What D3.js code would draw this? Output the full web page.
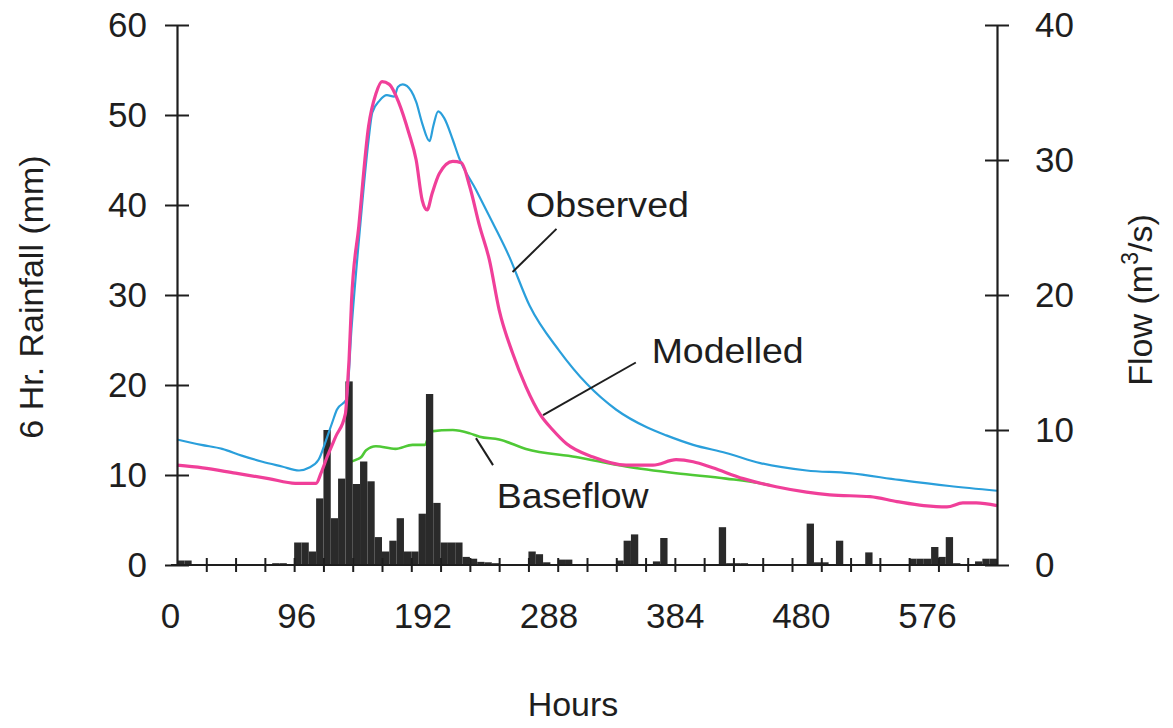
<!DOCTYPE html>
<html>
<head>
<meta charset="utf-8">
<script src="https://cdn.jsdelivr.net/npm/d3@7/dist/d3.min.js"></script>
<style>
  html, body { margin: 0; padding: 0; background: #fff; }
  svg { display: block; font-family: "Liberation Sans", Arial, sans-serif; }
</style>
</head>
<body>
<div id="chart"></div>
<script>
// 6-hour rainfall totals (mm), one value per 6 h block starting at hour 0
const rainfall = [
  0.5, 0.5, 0, 0, 0, 0, 0, 0, 0, 0, 0, 0, 0, 0.2, 0.2, 0,
  2.5, 2.5, 1.5, 7.4, 15, 5.2, 9.6, 20.4, 9.0, 11.5, 9.3, 3.1, 1.5, 2.7, 5.2, 1.5,
  1.5, 5.7, 19, 6.9, 2.5, 2.5, 2.5, 0.9, 0.7, 0.35, 0.3, 0.2, 0, 0, 0, 0,
  1.5, 1.2, 0.3, 0, 0.6, 0.6, 0, 0, 0, 0, 0, 0, 0.5, 2.7, 3.4, 0,
  0, 0.4, 3.0, 0, 0, 0, 0, 0, 0, 0, 4.2, 0.2, 0.2, 0.2, 0, 0,
  0, 0, 0, 0, 0, 0, 4.6, 0.3, 0.3, 0, 2.7, 0.1, 0, 0, 1.4, 0,
  0, 0, 0, 0, 0.7, 0.7, 0.7, 2.0, 0.9, 3.1, 0.2, 0, 0, 0.4, 0.7, 0.7
];

// flow series (m3/s) read at the given hours
const observedHours = [0, 20, 37, 53, 70, 86, 100, 108, 116, 122, 127, 131, 139, 143, 150, 157, 160, 166, 172, 178, 181, 185, 192, 196, 201, 207, 210, 214, 219, 226, 231, 245, 259, 272, 289, 313, 336, 360, 385, 401, 423, 450, 478, 516, 551, 592, 633, 672];
const observedFlow  = [9.3, 8.9, 8.6, 8.1, 7.65, 7.3, 7.0, 7.2, 7.8, 9.2, 10.5, 11.5, 12.3, 17.5, 25.0, 31.5, 33.5, 34.4, 34.8, 34.7, 35.4, 35.6, 35.1, 34.3, 32.7, 31.4, 32.5, 33.6, 33.1, 31.5, 30.2, 27.8, 25.3, 22.9, 19.2, 15.9, 13.4, 11.5, 10.2, 9.6, 8.9, 8.3, 7.55, 7.0, 6.8, 6.3, 5.85, 5.5];

const modelledHours = [0, 21, 48, 75, 97, 114, 118, 123, 130, 138, 140, 141, 143, 149, 157, 163, 168, 174, 182, 190, 196, 201, 205, 209, 215, 226, 233, 240, 248, 256, 264, 275, 286, 298, 308, 319, 341, 368, 390, 409, 423, 439, 464, 491, 516, 535, 568, 590, 612, 631, 644, 655, 672];
const modelledFlow  = [7.4, 7.2, 6.8, 6.4, 6.05, 6.05, 6.8, 8.0, 9.5, 11.2, 13.7, 15.2, 19.5, 25.1, 32.5, 34.9, 35.8, 35.6, 34.2, 32.0, 30.0, 27.0, 26.3, 27.5, 29.0, 29.9, 29.8, 28.0, 25.1, 22.6, 18.9, 15.7, 13.2, 11.1, 10.0, 9.0, 8.0, 7.4, 7.4, 7.8, 7.65, 7.2, 6.4, 5.8, 5.4, 5.2, 5.06, 4.7, 4.4, 4.3, 4.6, 4.6, 4.4];

const baseflowHours = [141, 147, 151, 155, 163, 179, 193, 203, 208, 226, 240, 248, 264, 286, 327, 368, 409, 450, 478, 486];
const baseflowFlow  = [7.6, 7.8, 8.0, 8.5, 8.8, 8.6, 8.9, 8.9, 9.9, 10.0, 9.75, 9.5, 9.3, 8.6, 8.0, 7.3, 6.8, 6.4, 6.05, 5.9];

const hourLabels = [0, 96, 192, 288, 384, 480, 576];
const rainTicks = [0, 10, 20, 30, 40, 50, 60];
const flowTicks = [0, 10, 20, 30, 40];

// annotations: label text, text anchor (hours, flow), leader from/to (hours, flow)
const notes = [
  { text: "Observed", at: [286, 25.8], len: 163, from: [311, 24.9], to: [275, 21.7] },
  { text: "Modelled", at: [389, 15.0], len: 152, from: [376, 15.0], to: [300, 11.1] },
  { text: "Baseflow", at: [262, 4.2], len: 152, from: [245, 9.4], to: [259, 7.4] }
];

const width = 1173, height = 728;
const plotLeft = 177, plotRight = 997, plotTop = 25, plotBottom = 565;

const svg = d3.select("#chart").append("svg")
  .attr("width", width).attr("height", height);

const x = d3.scaleLinear().domain([0, 672]).range([plotLeft, plotRight]);
// the printed hour labels sit on a slightly wider spacing than the ticks
const xLabel = d3.scaleLinear().domain([0, 576]).range([170, 927]);
const yRain = d3.scaleLinear().domain([0, 60]).range([plotBottom, plotTop]);
const yFlow = d3.scaleLinear().domain([0, 40]).range([plotBottom, plotTop]);

const ink = "#1e1e1e";
const fontSize = 35;

const line = (hrs, vals) => d3.line()
  .x((d, i) => x(hrs[i]))
  .y(d => yFlow(d))
  .curve(d3.curveMonotoneX)(vals);

// Baseflow sits behind the rainfall bars
svg.append("path")
  .attr("d", line(baseflowHours, baseflowFlow))
  .attr("fill", "none")
  .attr("stroke", "#4fc936")
  .attr("stroke-width", 2.6);

// Rainfall bars
svg.append("g").selectAll("rect")
  .data(rainfall)
  .join("rect")
  .attr("x", (d, i) => x(i * 6))
  .attr("width", (d, i) => x(i * 6 + 6) - x(i * 6))
  .attr("y", d => yRain(d))
  .attr("height", d => yRain(0) - yRain(d))
  .attr("fill", "#2a2a2a");

// Observed and modelled flow
svg.append("path")
  .attr("d", line(observedHours, observedFlow))
  .attr("fill", "none")
  .attr("stroke", "#2a9fdb")
  .attr("stroke-width", 2.2);

svg.append("path")
  .attr("d", line(modelledHours, modelledFlow))
  .attr("fill", "none")
  .attr("stroke", "#f03f99")
  .attr("stroke-width", 3.2);

// Left axis (ticks cross the line)
const gLeft = svg.append("g")
  .attr("transform", `translate(${plotLeft},0)`)
  .call(d3.axisLeft(yRain).tickValues(rainTicks).tickSizeOuter(0).tickPadding(24));
gLeft.select(".domain").attr("stroke", ink).attr("stroke-width", 2.2);
gLeft.selectAll(".tick line").attr("x1", 12).attr("x2", -12).attr("stroke", ink).attr("stroke-width", 2);
gLeft.selectAll(".tick text").attr("font-size", fontSize).attr("fill", ink)
  .attr("font-family", "Liberation Sans, Arial, sans-serif");

// Right axis
const gRight = svg.append("g")
  .attr("transform", `translate(${plotRight},0)`)
  .call(d3.axisRight(yFlow).tickValues(flowTicks).tickSizeOuter(0).tickPadding(32));
gRight.select(".domain").attr("stroke", ink).attr("stroke-width", 2.2);
gRight.selectAll(".tick line").attr("x1", -12).attr("x2", 12).attr("stroke", ink).attr("stroke-width", 2);
gRight.selectAll(".tick text").attr("font-size", fontSize).attr("fill", ink)
  .attr("font-family", "Liberation Sans, Arial, sans-serif");

// Bottom axis: 24 h ticks, no labels
const gBottom = svg.append("g")
  .attr("transform", `translate(0,${plotBottom})`)
  .call(d3.axisBottom(x).tickValues(d3.range(24, 672, 24)).tickFormat("").tickSizeOuter(0));
gBottom.select(".domain").attr("stroke", ink).attr("stroke-width", 2.2)
  .attr("d", `M${plotLeft - 6},0H${plotRight}`);
gBottom.selectAll(".tick line").attr("y1", -7).attr("y2", 7).attr("stroke", ink).attr("stroke-width", 2);

// Hour labels
const gLabels = svg.append("g")
  .attr("transform", `translate(0,${plotBottom + 38})`)
  .call(d3.axisBottom(xLabel).tickValues(hourLabels).tickSize(0).tickPadding(0));
gLabels.select(".domain").remove();
gLabels.selectAll(".tick text").attr("font-size", fontSize).attr("fill", ink)
  .attr("font-family", "Liberation Sans, Arial, sans-serif");

// Axis titles
svg.append("text")
  .attr("x", 573).attr("y", 716)
  .attr("text-anchor", "middle")
  .attr("font-size", 34).attr("fill", ink)
  .text("Hours");

svg.append("text")
  .attr("transform", "translate(43,297) rotate(-90)")
  .attr("text-anchor", "middle")
  .attr("font-size", 34).attr("fill", ink)
  .text("6 Hr. Rainfall (mm)");

const flowTitle = svg.append("text")
  .attr("transform", "translate(1152,300) rotate(-90)")
  .attr("text-anchor", "middle")
  .attr("font-size", 34).attr("fill", ink);
flowTitle.append("tspan").text("Flow (m");
flowTitle.append("tspan").attr("font-size", 23).attr("dy", -14).text("3");
flowTitle.append("tspan").attr("dy", 14).text("/s)");

// Series annotations with leader lines
const gNotes = svg.append("g");
gNotes.selectAll("line")
  .data(notes)
  .join("line")
  .attr("x1", d => x(d.from[0])).attr("y1", d => yFlow(d.from[1]))
  .attr("x2", d => x(d.to[0])).attr("y2", d => yFlow(d.to[1]))
  .attr("stroke", ink).attr("stroke-width", 2);
gNotes.selectAll("text")
  .data(notes)
  .join("text")
  .attr("x", d => x(d.at[0])).attr("y", d => yFlow(d.at[1]))
  .attr("font-size", 35).attr("fill", ink)
  .attr("textLength", d => d.len).attr("lengthAdjust", "spacingAndGlyphs")
  .text(d => d.text);
</script>
</body>
</html>
